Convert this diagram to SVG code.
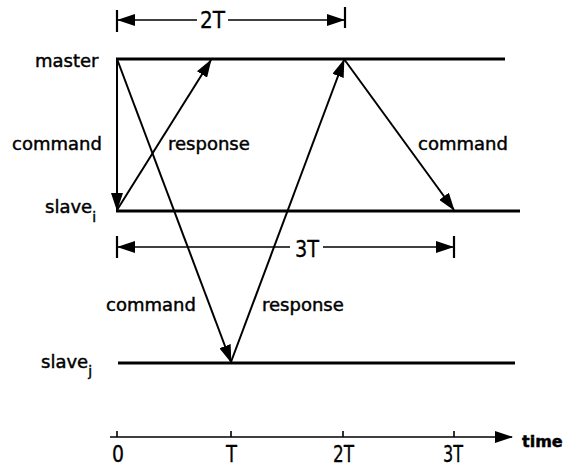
<svg xmlns="http://www.w3.org/2000/svg" width="572" height="467" viewBox="0 0 572 467">
<style>
text{font-family:"DejaVu Sans","Liberation Sans",sans-serif;fill:#000;stroke:#000;stroke-width:0.45}
.lbl{font-size:18px}
.sub{font-size:14px}
.tk{font-size:23px;font-family:"DejaVu Sans Condensed","DejaVu Sans",sans-serif;stroke-width:0.3}
.life{stroke:#000;stroke-width:3;fill:none}
.msg{stroke:#000;stroke-width:2;fill:none;marker-end:url(#ah)}
.dim{stroke:#000;stroke-width:1.6;fill:none}
.bar{stroke:#000;stroke-width:2.2}
</style>
<defs>
<marker id="ah" markerUnits="userSpaceOnUse" markerWidth="18" markerHeight="12" viewBox="0 0 18 12" refX="17" refY="6" orient="auto">
<path d="M0,0 L18,6 L0,12 Z" fill="#000"/>
</marker>
<marker id="dh" markerUnits="userSpaceOnUse" markerWidth="18" markerHeight="12" viewBox="0 0 18 12" refX="17" refY="6" orient="auto">
<path d="M0,0 L18,6 L0,12 Z" fill="#000"/>
</marker>
</defs>
<g id="lifelines">
<g id="master"><text class="lbl" x="35" y="67">master</text><line class="life" x1="116" y1="59" x2="505" y2="59"/></g>
<g id="slave_i"><text class="lbl" x="45" y="213">slave<tspan class="sub" dy="9">i</tspan></text><line class="life" x1="116" y1="211" x2="520" y2="211"/></g>
<g id="slave_j"><text class="lbl" x="41" y="368">slave<tspan class="sub" dy="8">j</tspan></text><line class="life" x1="118" y1="363" x2="515" y2="363"/></g>
</g>
<g id="connectors">
<line class="msg" x1="117" y1="59" x2="117" y2="210"/>
<line class="msg" x1="117" y1="210" x2="211" y2="60"/>
<line class="msg" x1="117" y1="59" x2="231" y2="362"/>
<line class="msg" x1="231" y1="362" x2="344" y2="60"/>
<line class="msg" x1="344" y1="59" x2="454" y2="210"/>
</g>
<g id="labels">
<text class="lbl" x="12" y="150">command</text>
<text class="lbl" x="168" y="150">response</text>
<text class="lbl" x="418" y="150">command</text>
<text class="lbl" x="106" y="311">command</text>
<text class="lbl" x="262" y="311">response</text>
</g>
<g id="dim2T">
<line class="bar" x1="117" y1="10" x2="117" y2="32"/>
<line class="bar" x1="345" y1="7" x2="345" y2="28"/>
<line class="dim" x1="197" y1="20" x2="118" y2="20" marker-end="url(#dh)"/>
<line class="dim" x1="228" y1="20" x2="344" y2="20" marker-end="url(#dh)"/>
<text class="tk" x="200" y="28" textLength="25" lengthAdjust="spacingAndGlyphs">2T</text>
</g>
<g id="dim3T">
<line class="bar" x1="117" y1="236" x2="117" y2="258"/>
<line class="bar" x1="454" y1="236" x2="454" y2="258"/>
<line class="dim" x1="290" y1="247" x2="118" y2="247" marker-end="url(#dh)"/>
<line class="dim" x1="323" y1="247" x2="453" y2="247" marker-end="url(#dh)"/>
<text class="tk" x="295" y="257" textLength="24" lengthAdjust="spacingAndGlyphs">3T</text>
</g>
<g id="axis">
<line class="dim" x1="110" y1="437" x2="512" y2="437" marker-end="url(#dh)"/>
<line class="dim" x1="117" y1="431" x2="117" y2="437"/>
<line class="dim" x1="231" y1="431" x2="231" y2="437"/>
<line class="dim" x1="343" y1="431" x2="343" y2="437"/>
<line class="dim" x1="454" y1="431" x2="454" y2="437"/>
<text class="tk" x="112" y="462" textLength="12" lengthAdjust="spacingAndGlyphs">0</text>
<text class="tk" x="226" y="462" textLength="11" lengthAdjust="spacingAndGlyphs">T</text>
<text class="tk" x="333" y="462" textLength="21" lengthAdjust="spacingAndGlyphs">2T</text>
<text class="tk" x="443" y="462" textLength="20" lengthAdjust="spacingAndGlyphs">3T</text>
<text x="522" y="447" style="font-size:16px;font-weight:bold">time</text>
</g>
</svg>
